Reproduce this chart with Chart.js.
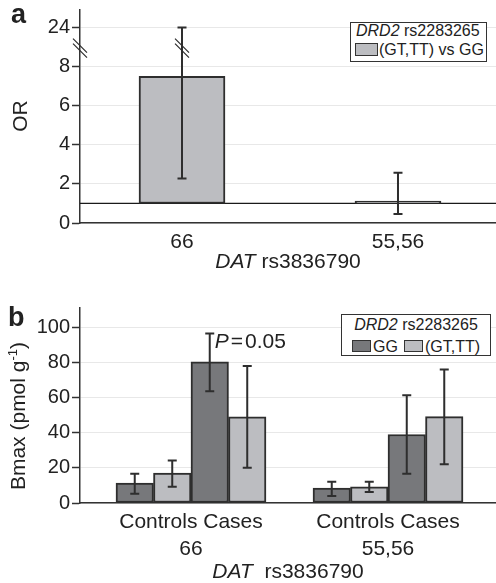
<!DOCTYPE html>
<html>
<head>
<meta charset="utf-8">
<script src="https://cdn.jsdelivr.net/npm/chart.js@4.4.1/dist/chart.umd.min.js"></script>
<style>
  html, body { margin: 0; padding: 0; background: #fff; }
  body { width: 496px; height: 583px; position: relative; overflow: hidden;
         font-family: "Liberation Sans", Arial, sans-serif; color: #222; }
  canvas { position: absolute; left: 0; }
  #chartA { top: 0; }
  #chartB { top: 283px; }
  .txt { position: absolute; white-space: nowrap; }
  .panel { font-weight: bold; font-size: 27px; line-height: 27px; }
  .ytitle { font-size: 21px; line-height: 21px; transform: translate(-50%, -50%) rotate(-90deg); }
  .xtitle { left: 80px; width: 416px; text-align: center; font-size: 21px; line-height: 21px; }
  .leg { position: absolute; box-sizing: border-box; border: 1.3px solid #333; background: #fff; }
  .legtxt { font-size: 16px; line-height: 16px; }
  .sw { position: absolute; box-sizing: border-box; border: 1.5px solid #333; }
</style>
</head>
<body>
<canvas id="chartA" width="496" height="283"></canvas>
<canvas id="chartB" width="496" height="300"></canvas>

<!-- panel a texts -->
<div class="txt panel" style="left:11px;top:1px">a</div>
<div class="txt ytitle" style="left:19px;top:116px">OR</div>
<div class="txt xtitle" style="top:250px"><i>DAT</i> rs3836790</div>
<div class="leg" style="left:350px;top:22px;width:137px;height:40px"></div>
<div class="txt legtxt" style="left:356px;top:23px"><i>DRD2</i> rs2283265</div>
<div class="sw" style="left:355px;top:43px;width:23px;height:13px;background:#bcbdc1"></div>
<div class="txt legtxt" style="left:379px;top:41.5px">(GT,TT) vs GG</div>

<!-- panel b texts -->
<div class="txt panel" style="left:8px;top:304px">b</div>
<div class="txt ytitle" style="left:19px;top:416px">Bmax (pmol g<span style="font-size:13px;position:relative;top:-8px">-1</span>)</div>
<div class="txt xtitle" style="top:560px"><i>DAT</i>&nbsp; rs3836790</div>
<div class="leg" style="left:341px;top:314px;width:150px;height:42px"></div>
<div class="txt legtxt" style="left:341px;width:150px;text-align:center;top:316.5px"><i>DRD2</i> rs2283265</div>
<div class="sw" style="left:352px;top:340px;width:19px;height:12px;background:#77787b"></div>
<div class="txt legtxt" style="left:373px;top:338.5px">GG</div>
<div class="sw" style="left:404px;top:340px;width:19px;height:12px;background:#bcbdc1"></div>
<div class="txt legtxt" style="left:425px;top:338.5px">(GT,TT)</div>

<script>
// ===== data =====

// panel a: odds ratio, bars start at OR = 1
const categoriesA = ['66', '55,56'];
const orValues = [7.5, 1.12];
const orLower = [2.28, 0.46];
const orUpper = [24, 2.57];
const orBase = 1;
// y axis is cut between 8 and 24
const BREAK_LOW = 8;
const BREAK_HIGH = 24;

// panel b: Bmax per group
const groupLabels = [['Controls Cases', '66'], ['Controls Cases', '55,56']];
const controlsGG = [11.4, 8.5];
const controlsGGLow = [5.2, 4.0];
const controlsGGHigh = [16.6, 12.1];
const controlsGT = [17.0, 9.2];
const controlsGTLow = [9.2, 6.2];
const controlsGTHigh = [24.2, 12.1];
const casesGG = [80.3, 39.0];
const casesGGLow = [63.6, 16.6];
const casesGGHigh = [96.5, 61.4];
const casesGT = [49.0, 49.2];
const casesGTLow = [20.0, 22.0];
const casesGTHigh = [78.0, 76.0];
const pLabel = 'P';
const pValue = '0.05';

// ===== styles =====
const DARK = '#77787b';
const LIGHT = '#bcbdc1';
const EDGE = '#2e2e2e';
const AXIS = '#333';
const GRID = '#e8e8e8';
const TEXT = '#222';

Chart.defaults.font.family = '"Liberation Sans", Arial, sans-serif';

function axisOR(v) {
    if (v <= BREAK_LOW) return v;
    return BREAK_LOW + (v - BREAK_LOW) / (BREAK_HIGH - BREAK_LOW) * 2;
}

// put the two category centres at given fractions of the axis width
function placeCategories(first, last) {
    return function(scale) {
        scale._valueRange = 1 / (last - first);
        scale._startValue = -first * scale._valueRange;
    };
}

const errorBarPlugin = {
    id: 'errorBars',
    afterDatasetsDraw(chart) {
        const ctx = chart.ctx;
        const y = chart.scales.y;
        ctx.save();
        ctx.strokeStyle = EDGE;
        ctx.lineWidth = 2;
        chart.data.datasets.forEach((ds, i) => {
            if (!ds.errLow) return;
            chart.getDatasetMeta(i).data.forEach((bar, j) => {
                const lo = y.getPixelForValue(ds.errLow[j]);
                const hi = y.getPixelForValue(ds.errHigh[j]);
                ctx.beginPath();
                ctx.moveTo(bar.x, lo); ctx.lineTo(bar.x, hi);
                ctx.moveTo(bar.x - 4.5, lo); ctx.lineTo(bar.x + 4.5, lo);
                ctx.moveTo(bar.x - 4.5, hi); ctx.lineTo(bar.x + 4.5, hi);
                ctx.stroke();
            });
        });
        ctx.restore();
    }
};

function breakMark(ctx, x, y) {
    ctx.beginPath();
    ctx.moveTo(x - 7, y - 9.5); ctx.lineTo(x + 7, y + 4.5);
    ctx.moveTo(x - 7, y - 4.5); ctx.lineTo(x + 7, y + 9.5);
    ctx.stroke();
}

const orExtrasPlugin = {
    id: 'orExtras',
    beforeDatasetsDraw(chart) {
        const ctx = chart.ctx;
        const area = chart.chartArea;
        const y = chart.scales.y.getPixelForValue(orBase);
        ctx.save();
        ctx.strokeStyle = '#1a1a1a';
        ctx.lineWidth = 1.3;
        ctx.beginPath();
        ctx.moveTo(area.left, y); ctx.lineTo(area.right, y);
        ctx.stroke();
        ctx.restore();
    },
    afterDraw(chart) {
        const ctx = chart.ctx;
        const y = chart.scales.y.getPixelForValue(BREAK_LOW + 0.95);
        const bar = chart.getDatasetMeta(0).data[0];
        ctx.save();
        ctx.strokeStyle = EDGE;
        ctx.lineWidth = 1.2;
        breakMark(ctx, chart.chartArea.left, y);
        breakMark(ctx, bar.x, y);
        ctx.restore();
    }
};

const pValuePlugin = {
    id: 'pValue',
    afterDatasetsDraw(chart) {
        const ds = chart.data.datasets[2];
        const bar = chart.getDatasetMeta(2).data[0];
        const ctx = chart.ctx;
        const y = chart.scales.y.getPixelForValue(ds.errHigh[0]) + 15;
        let x = bar.x + 5;
        ctx.save();
        ctx.fillStyle = TEXT;
        ctx.textBaseline = 'alphabetic';
        ctx.font = 'italic 21px "Liberation Sans", Arial, sans-serif';
        ctx.fillText(pLabel, x, y);
        x += ctx.measureText(pLabel).width + 2;
        ctx.font = '21px "Liberation Sans", Arial, sans-serif';
        ctx.fillText('=', x, y);
        x += ctx.measureText('=').width + 2;
        ctx.fillText(pValue, x, y);
        ctx.restore();
    }
};

function xAxis(first, last, height) {
    return {
        afterBuildTicks: placeCategories(first, last),
        afterFit: s => { s.height = height; s.paddingLeft = 0; s.paddingRight = 0; },
        grid: { drawOnChartArea: false, drawTicks: false },
        border: { color: AXIS, width: 1.5 },
        ticks: { color: TEXT, font: { size: 21, lineHeight: 1.29 }, padding: 6, maxRotation: 0, autoSkip: false }
    };
}

function yAxis(max, step, labelFn) {
    return {
        min: 0,
        max: max,
        afterFit: s => { s.width = 80; s.paddingTop = 0; s.paddingBottom = 0; },
        grid: { color: GRID, tickColor: AXIS, tickLength: 8, tickWidth: 1.5 },
        border: { color: AXIS, width: 1.5 },
        ticks: { stepSize: step, includeBounds: false, color: TEXT, font: { size: 20 }, padding: 2, callback: labelFn }
    };
}

// ===== panel a =====
new Chart(document.getElementById('chartA'), {
    type: 'bar',
    data: {
        labels: categoriesA,
        datasets: [{
            data: orValues.map(v => [orBase, axisOR(v)]),
            backgroundColor: LIGHT,
            borderColor: EDGE,
            borderWidth: 2,
            borderSkipped: false,
            barThickness: 86,
            errLow: orLower.map(axisOR),
            errHigh: orUpper.map(axisOR)
        }]
    },
    options: {
        responsive: false,
        animation: false,
        layout: { padding: { top: 10, left: 0, right: 0, bottom: 0 } },
        plugins: { legend: { display: false }, tooltip: { enabled: false } },
        scales: {
            x: xAxis(0.2452, 0.7644, 60),
            y: yAxis(10.9, 2, v => v > BREAK_LOW ? String(BREAK_HIGH) : String(v))
        }
    },
    plugins: [orExtrasPlugin, errorBarPlugin]
});

// ===== panel b =====
function barSet(values, low, high, color) {
    return {
        data: values,
        backgroundColor: color,
        borderColor: EDGE,
        borderWidth: 2,
        borderSkipped: false,
        barThickness: 37.5,
        errLow: low,
        errHigh: high
    };
}

new Chart(document.getElementById('chartB'), {
    type: 'bar',
    data: {
        labels: groupLabels,
        datasets: [
            barSet(controlsGG, controlsGGLow, controlsGGHigh, DARK),
            barSet(controlsGT, controlsGTLow, controlsGTHigh, LIGHT),
            barSet(casesGG, casesGGLow, casesGGHigh, DARK),
            barSet(casesGT, casesGTLow, casesGTHigh, LIGHT)
        ]
    },
    options: {
        responsive: false,
        animation: false,
        layout: { padding: { top: 25, left: 0, right: 0, bottom: 0 } },
        plugins: { legend: { display: false }, tooltip: { enabled: false } },
        scales: {
            x: xAxis(0.2668, 0.7404, 80),
            y: yAxis(111, 20, v => String(v))
        }
    },
    plugins: [errorBarPlugin, pValuePlugin]
});
</script>
</body>
</html>
